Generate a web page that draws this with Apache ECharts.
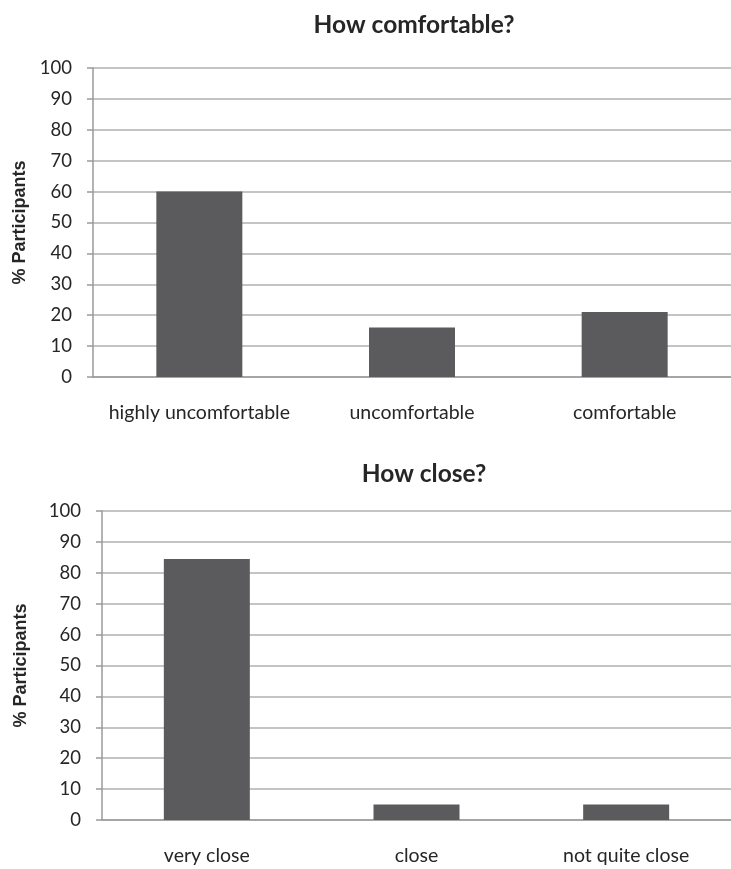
<!DOCTYPE html>
<html>
<head>
<meta charset="utf-8">
<script src="https://cdn.jsdelivr.net/npm/echarts@6/dist/echarts.min.js"></script>
<style>
  html, body { margin: 0; padding: 0; background: #ffffff; }
  #chart { width: 731px; height: 869px; }
</style>
</head>
<body>
<div id="chart"></div>
<script>
// ---- data ----
const comfortTitle = 'How comfortable?';
const comfortCategories = ['highly uncomfortable', 'uncomfortable', 'comfortable'];
const comfortValues = [60, 16, 21];

const closeTitle = 'How close?';
const closeCategories = ['very close', 'close', 'not quite close'];
const closeValues = [84.5, 5, 5];

const yAxisName = '% Participants';
const yMin = 0, yMax = 100, yStep = 10;

// ---- styles ----
const barColor = '#5b5b5d';
const gridColor = '#b0b0b0';
const axisColor = '#9a9a9a';
const textColor = '#262626';
const tickFont = 'Lato';

function yAxisCfg(gridIndex, nameGap) {
  return {
    type: 'value', gridIndex: gridIndex,
    min: yMin, max: yMax, interval: yStep,
    name: yAxisName, nameLocation: 'middle', nameRotate: 90, nameGap: nameGap,
    nameTextStyle: { fontFamily: 'Liberation Sans', fontWeight: 'bold', fontSize: 18, color: textColor },
    axisLine: { show: true, lineStyle: { color: axisColor, width: 1.5 } },
    axisTick: { show: true, length: 6, inside: false, lineStyle: { color: axisColor, width: 1.5 } },
    splitLine: { show: true, lineStyle: { color: gridColor, width: 1.5 } },
    axisLabel: { margin: 21, fontFamily: tickFont, fontSize: 18.5, color: textColor }
  };
}
function xAxisCfg(gridIndex, cats) {
  return {
    type: 'category', gridIndex: gridIndex, data: cats,
    axisLine: { show: true, lineStyle: { color: axisColor, width: 1.5 } },
    axisTick: { show: false },
    axisLabel: { margin: 26, fontFamily: tickFont, fontSize: 19.5, color: textColor, interval: 0 }
  };
}

const chart = echarts.init(document.getElementById('chart'), null, { renderer: 'canvas' });
chart.setOption({
  animation: false,
  backgroundColor: '#ffffff',
  title: [
    { text: comfortTitle, left: 409, top: 8, textAlign: 'center',
      textStyle: { fontFamily: tickFont, fontWeight: 'bold', fontSize: 24.5, color: textColor } },
    { text: closeTitle, left: 419, top: 457, textAlign: 'center',
      textStyle: { fontFamily: tickFont, fontWeight: 'bold', fontSize: 24.5, color: textColor } }
  ],
  grid: [
    { left: 93, right: 0, top: 68, bottom: 492, containLabel: false },
    { left: 102, right: -9, top: 511, bottom: 49, containLabel: false }
  ],
  xAxis: [ xAxisCfg(0, comfortCategories), xAxisCfg(1, closeCategories) ],
  yAxis: [ yAxisCfg(0, 63), yAxisCfg(1, 72) ],
  series: [
    { type: 'bar', xAxisIndex: 0, yAxisIndex: 0, data: comfortValues, barWidth: 86,
      itemStyle: { color: barColor } },
    { type: 'bar', xAxisIndex: 1, yAxisIndex: 1, data: closeValues, barWidth: 86,
      itemStyle: { color: barColor } }
  ]
});
</script>
</body>
</html>
